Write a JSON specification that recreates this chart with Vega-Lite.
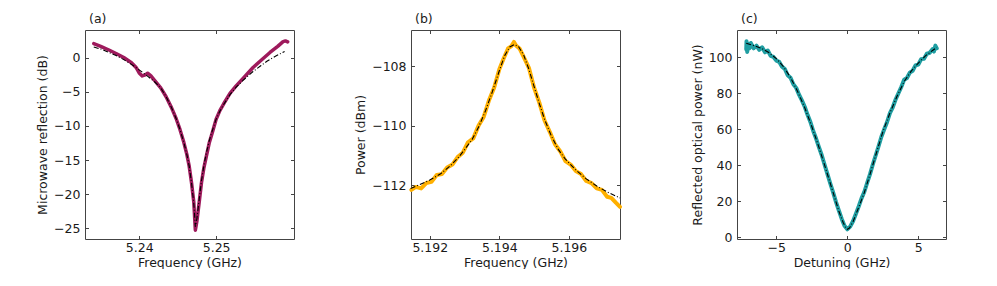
{
  "$schema": "https://vega.github.io/schema/vega-lite/v6.json",
  "padding": {"left": 36, "top": 12, "right": 0, "bottom": 0},
  "background": "white",
  "config": {
    "font": "DejaVu Sans",
    "view": {"stroke": "#444444", "strokeWidth": 1},
    "axis": {"grid": false, "domain": false, "tickSize": -3.5, "tickColor": "#444444", "tickWidth": 1,
      "labelFontSize": 12.5, "titleFontSize": 12.5, "titleFontWeight": "normal", "labelColor": "#1a1a1a", "titleColor": "#1a1a1a",
      "labelFont": "DejaVu Sans", "titleFont": "DejaVu Sans"},
    "axisX": {"labelPadding": 6, "titlePadding": 2},
    "axisY": {"labelPadding": 8.5, "titlePadding": 4},
    "title": {"font": "DejaVu Sans", "fontSize": 12.5, "fontWeight": "normal", "anchor": "start", "frame": "group", "dx": 4, "offset": 4, "color": "#1a1a1a"}
  },
  "datasets": {
    "a_data": [
      {"f": 5.2341, "v": 2.1}, {"f": 5.2350, "v": 1.7}, {"f": 5.2360, "v": 1.2}, {"f": 5.2370, "v": 0.65},
      {"f": 5.2380, "v": 0.05}, {"f": 5.2390, "v": -0.7}, {"f": 5.2396, "v": -1.4}, {"f": 5.2400, "v": -2.2},
      {"f": 5.2404, "v": -2.65}, {"f": 5.2408, "v": -2.5}, {"f": 5.2411, "v": -2.25}, {"f": 5.2415, "v": -2.6},
      {"f": 5.2420, "v": -3.3}, {"f": 5.2428, "v": -4.4}, {"f": 5.2435, "v": -5.7}, {"f": 5.2442, "v": -7.3},
      {"f": 5.2448, "v": -8.9}, {"f": 5.2453, "v": -10.5}, {"f": 5.2458, "v": -12.4}, {"f": 5.2462, "v": -14.2},
      {"f": 5.2465, "v": -15.9}, {"f": 5.2468, "v": -18.3}, {"f": 5.2471, "v": -21.2}, {"f": 5.2473, "v": -25.3},
      {"f": 5.2475, "v": -24.0}, {"f": 5.2478, "v": -21.2}, {"f": 5.2481, "v": -18.3}, {"f": 5.2484, "v": -16.2},
      {"f": 5.2487, "v": -14.6}, {"f": 5.2491, "v": -12.5}, {"f": 5.2495, "v": -11.0}, {"f": 5.2500, "v": -9.0},
      {"f": 5.2505, "v": -7.7}, {"f": 5.2510, "v": -6.7}, {"f": 5.2518, "v": -5.2}, {"f": 5.2526, "v": -4.1},
      {"f": 5.2535, "v": -3.0}, {"f": 5.2548, "v": -1.4}, {"f": 5.2560, "v": -0.2}, {"f": 5.2570, "v": 0.8},
      {"f": 5.2580, "v": 1.7}, {"f": 5.2587, "v": 2.4}, {"f": 5.2590, "v": 2.5}, {"f": 5.2593, "v": 2.35}
    ],
    "a_fit": [
      {"f": 5.2341, "v": 1.6}, {"f": 5.2350, "v": 1.3}, {"f": 5.2360, "v": 0.85}, {"f": 5.2370, "v": 0.35},
      {"f": 5.2380, "v": -0.25}, {"f": 5.2390, "v": -0.95}, {"f": 5.2400, "v": -1.75}, {"f": 5.2410, "v": -2.6},
      {"f": 5.2420, "v": -3.5}, {"f": 5.2428, "v": -4.4}, {"f": 5.2435, "v": -5.7}, {"f": 5.2442, "v": -7.3},
      {"f": 5.2448, "v": -8.9}, {"f": 5.2453, "v": -10.5}, {"f": 5.2458, "v": -12.4}, {"f": 5.2462, "v": -14.2},
      {"f": 5.2465, "v": -15.9}, {"f": 5.2468, "v": -18.3}, {"f": 5.2471, "v": -21.4}, {"f": 5.2473, "v": -24.8},
      {"f": 5.2475, "v": -23.6}, {"f": 5.2478, "v": -20.8}, {"f": 5.2481, "v": -18.0}, {"f": 5.2484, "v": -15.9},
      {"f": 5.2487, "v": -14.1}, {"f": 5.2491, "v": -12.2}, {"f": 5.2495, "v": -10.7}, {"f": 5.2500, "v": -9.0},
      {"f": 5.2505, "v": -7.8}, {"f": 5.2510, "v": -6.8}, {"f": 5.2518, "v": -5.4}, {"f": 5.2526, "v": -4.3},
      {"f": 5.2535, "v": -3.3}, {"f": 5.2548, "v": -2.0}, {"f": 5.2558, "v": -1.15}, {"f": 5.2566, "v": -0.5},
      {"f": 5.2577, "v": 0.25}, {"f": 5.2589, "v": 0.95}
    ],
    "b_data": [
      {"f": 5.19147, "v": -112.15}, {"f": 5.19160, "v": -112.05}, {"f": 5.19175, "v": -112.10}, {"f": 5.19190, "v": -111.92},
      {"f": 5.19205, "v": -111.88}, {"f": 5.19220, "v": -111.65}, {"f": 5.19235, "v": -111.62}, {"f": 5.19250, "v": -111.40},
      {"f": 5.19265, "v": -111.30}, {"f": 5.19280, "v": -111.05}, {"f": 5.19295, "v": -110.90}, {"f": 5.19310, "v": -110.55},
      {"f": 5.19325, "v": -110.42}, {"f": 5.19340, "v": -110.00}, {"f": 5.19355, "v": -109.70}, {"f": 5.19370, "v": -109.15},
      {"f": 5.19385, "v": -108.72}, {"f": 5.19400, "v": -108.10}, {"f": 5.19413, "v": -107.72}, {"f": 5.19425, "v": -107.40},
      {"f": 5.19435, "v": -107.32}, {"f": 5.19442, "v": -107.18}, {"f": 5.19448, "v": -107.30}, {"f": 5.19458, "v": -107.40},
      {"f": 5.19470, "v": -107.68}, {"f": 5.19485, "v": -108.05}, {"f": 5.19500, "v": -108.72}, {"f": 5.19515, "v": -109.22},
      {"f": 5.19530, "v": -109.82}, {"f": 5.19545, "v": -110.20}, {"f": 5.19560, "v": -110.62}, {"f": 5.19575, "v": -110.85},
      {"f": 5.19590, "v": -111.18}, {"f": 5.19605, "v": -111.30}, {"f": 5.19620, "v": -111.52}, {"f": 5.19635, "v": -111.62},
      {"f": 5.19650, "v": -111.85}, {"f": 5.19665, "v": -111.92}, {"f": 5.19680, "v": -112.10}, {"f": 5.19695, "v": -112.15},
      {"f": 5.19710, "v": -112.38}, {"f": 5.19722, "v": -112.42}, {"f": 5.19735, "v": -112.58}, {"f": 5.19747, "v": -112.72}
    ],
    "b_fit": [
      {"f": 5.19145, "v": -112.10}, {"f": 5.19170, "v": -111.98}, {"f": 5.19200, "v": -111.82}, {"f": 5.19230, "v": -111.62},
      {"f": 5.19260, "v": -111.33}, {"f": 5.19283, "v": -111.05}, {"f": 5.19300, "v": -110.80}, {"f": 5.19322, "v": -110.45},
      {"f": 5.19340, "v": -110.05}, {"f": 5.19360, "v": -109.50}, {"f": 5.19380, "v": -108.85}, {"f": 5.19400, "v": -108.15},
      {"f": 5.19415, "v": -107.65}, {"f": 5.19430, "v": -107.35}, {"f": 5.19443, "v": -107.27}, {"f": 5.19455, "v": -107.33},
      {"f": 5.19470, "v": -107.62}, {"f": 5.19485, "v": -108.10}, {"f": 5.19500, "v": -108.68}, {"f": 5.19515, "v": -109.25},
      {"f": 5.19530, "v": -109.78}, {"f": 5.19550, "v": -110.35}, {"f": 5.19570, "v": -110.80}, {"f": 5.19590, "v": -111.12},
      {"f": 5.19620, "v": -111.48}, {"f": 5.19650, "v": -111.78}, {"f": 5.19680, "v": -112.02}, {"f": 5.19710, "v": -112.22},
      {"f": 5.19747, "v": -112.42}
    ],
    "c_data": [
      {"d": -7.12, "v": 104.5}, {"d": -7.10, "v": 109.0}, {"d": -7.05, "v": 103.0}, {"d": -7.0, "v": 107.5},
      {"d": -6.9, "v": 105.0}, {"d": -6.8, "v": 108.0}, {"d": -6.6, "v": 105.0}, {"d": -6.4, "v": 106.5},
      {"d": -6.2, "v": 104.2}, {"d": -6.0, "v": 105.6}, {"d": -5.8, "v": 102.8}, {"d": -5.6, "v": 103.8},
      {"d": -5.4, "v": 100.8}, {"d": -5.2, "v": 100.2}, {"d": -5.0, "v": 98.2}, {"d": -4.8, "v": 97.5},
      {"d": -4.6, "v": 94.8}, {"d": -4.4, "v": 93.5}, {"d": -4.2, "v": 90.0}, {"d": -4.0, "v": 88.6},
      {"d": -3.8, "v": 85.0}, {"d": -3.6, "v": 83.0}, {"d": -3.4, "v": 79.2}, {"d": -3.2, "v": 76.0},
      {"d": -3.0, "v": 72.5}, {"d": -2.8, "v": 68.0}, {"d": -2.6, "v": 64.0}, {"d": -2.4, "v": 59.0},
      {"d": -2.2, "v": 54.8}, {"d": -2.0, "v": 50.0}, {"d": -1.8, "v": 45.5}, {"d": -1.6, "v": 40.2},
      {"d": -1.4, "v": 35.0}, {"d": -1.2, "v": 29.8}, {"d": -1.0, "v": 24.8}, {"d": -0.8, "v": 19.6},
      {"d": -0.6, "v": 14.8}, {"d": -0.4, "v": 10.2}, {"d": -0.2, "v": 6.3}, {"d": 0.0, "v": 4.3},
      {"d": 0.2, "v": 5.8}, {"d": 0.4, "v": 8.8}, {"d": 0.6, "v": 12.8}, {"d": 0.8, "v": 17.0},
      {"d": 1.0, "v": 21.5}, {"d": 1.2, "v": 25.2}, {"d": 1.4, "v": 30.2}, {"d": 1.6, "v": 35.0},
      {"d": 1.8, "v": 40.5}, {"d": 2.0, "v": 45.5}, {"d": 2.2, "v": 50.5}, {"d": 2.4, "v": 55.8},
      {"d": 2.6, "v": 60.0}, {"d": 2.8, "v": 64.0}, {"d": 3.0, "v": 69.0}, {"d": 3.2, "v": 72.2},
      {"d": 3.4, "v": 76.5}, {"d": 3.6, "v": 80.0}, {"d": 3.8, "v": 83.5}, {"d": 4.0, "v": 87.5},
      {"d": 4.2, "v": 88.5}, {"d": 4.4, "v": 91.5}, {"d": 4.6, "v": 92.5}, {"d": 4.8, "v": 95.5},
      {"d": 5.0, "v": 96.0}, {"d": 5.2, "v": 99.0}, {"d": 5.4, "v": 99.2}, {"d": 5.6, "v": 102.0},
      {"d": 5.8, "v": 102.5}, {"d": 6.0, "v": 104.5}, {"d": 6.1, "v": 103.2}, {"d": 6.2, "v": 106.5},
      {"d": 6.3, "v": 105.0}
    ],
    "c_fit": [
      {"d": -7.12, "v": 107.8}, {"d": -6.5, "v": 106.3}, {"d": -6.0, "v": 104.8}, {"d": -5.5, "v": 102.5},
      {"d": -5.0, "v": 99.3}, {"d": -4.5, "v": 94.8}, {"d": -4.0, "v": 88.8}, {"d": -3.5, "v": 81.0},
      {"d": -3.0, "v": 72.0}, {"d": -2.5, "v": 61.5}, {"d": -2.0, "v": 50.0}, {"d": -1.5, "v": 37.5},
      {"d": -1.0, "v": 24.8}, {"d": -0.6, "v": 14.5}, {"d": -0.3, "v": 8.2}, {"d": -0.1, "v": 5.0},
      {"d": 0.0, "v": 4.3}, {"d": 0.15, "v": 5.0}, {"d": 0.4, "v": 8.5}, {"d": 0.8, "v": 16.5},
      {"d": 1.2, "v": 24.8}, {"d": 1.6, "v": 35.0}, {"d": 2.0, "v": 45.5}, {"d": 2.5, "v": 58.5},
      {"d": 3.0, "v": 69.0}, {"d": 3.5, "v": 78.3}, {"d": 4.0, "v": 86.5}, {"d": 4.5, "v": 92.3},
      {"d": 5.0, "v": 96.8}, {"d": 5.5, "v": 100.8}, {"d": 6.0, "v": 103.8}, {"d": 6.3, "v": 105.5}
    ]
  },
  "bounds": "flush",
  "spacing": 117,
  "hconcat": [
    {
      "width": 209, "height": 209,
      "title": {"text": "(a)"},
      "layer": [
        {
          "data": {"name": "a_data"},
          "mark": {"type": "line", "color": "#9e1a5c", "strokeWidth": 3.5, "strokeCap": "round", "strokeJoin": "round"},
          "encoding": {
            "x": {"field": "f", "type": "quantitative", "scale": {"domain": [5.23296, 5.26012], "nice": false, "zero": false},
              "axis": {"orient": "bottom", "values": [5.24, 5.25], "format": ".2f", "title": "Frequency (GHz)"}},
            "y": {"field": "v", "type": "quantitative", "scale": {"domain": [-26.6, 4.1], "nice": false, "zero": false},
              "axis": {"orient": "left", "values": [0, -5, -10, -15, -20, -25], "title": "Microwave reflection (dB)"}}
          }
        },
        {
          "data": {"name": "a_fit"},
          "mark": {"type": "line", "color": "black", "strokeWidth": 1.1, "strokeDash": [5, 2, 1, 2]},
          "encoding": {
            "x": {"field": "f", "type": "quantitative", "axis": {"orient": "top", "values": [5.24, 5.25], "labels": false, "title": null}},
            "y": {"field": "v", "type": "quantitative", "axis": {"orient": "right", "values": [0, -5, -10, -15, -20, -25], "labels": false, "title": null}}
          }
        }
      ],
      "resolve": {"axis": {"x": "independent", "y": "independent"}}
    },
    {
      "width": 209, "height": 209,
      "title": {"text": "(b)"},
      "layer": [
        {
          "data": {"name": "b_data"},
          "mark": {"type": "line", "color": "#ffb000", "strokeWidth": 4, "strokeCap": "round", "strokeJoin": "round"},
          "encoding": {
            "x": {"field": "f", "type": "quantitative", "scale": {"domain": [5.19146, 5.19747], "nice": false, "zero": false},
              "axis": {"orient": "bottom", "values": [5.192, 5.194, 5.196], "format": ".3f", "title": "Frequency (GHz)"}},
            "y": {"field": "v", "type": "quantitative", "scale": {"domain": [-113.8, -106.78], "nice": false, "zero": false},
              "axis": {"orient": "left", "values": [-108, -110, -112], "title": "Power (dBm)"}}
          }
        },
        {
          "data": {"name": "b_fit"},
          "mark": {"type": "line", "color": "black", "strokeWidth": 1.1, "strokeDash": [5, 2, 1, 2]},
          "encoding": {
            "x": {"field": "f", "type": "quantitative", "axis": {"orient": "top", "values": [5.192, 5.194, 5.196], "labels": false, "title": null}},
            "y": {"field": "v", "type": "quantitative", "axis": {"orient": "right", "values": [-108, -110, -112], "labels": false, "title": null}}
          }
        }
      ],
      "resolve": {"axis": {"x": "independent", "y": "independent"}}
    },
    {
      "width": 209, "height": 209,
      "title": {"text": "(c)"},
      "layer": [
        {
          "data": {"name": "c_data"},
          "mark": {"type": "line", "color": "#1f9ea2", "strokeWidth": 4, "strokeCap": "round", "strokeJoin": "round"},
          "encoding": {
            "x": {"field": "d", "type": "quantitative", "scale": {"domain": [-7.77, 6.95], "nice": false, "zero": false},
              "axis": {"orient": "bottom", "values": [-5, 0, 5], "title": "Detuning (GHz)"}},
            "y": {"field": "v", "type": "quantitative", "scale": {"domain": [-1.1, 115.2], "nice": false, "zero": false},
              "axis": {"orient": "left", "values": [0, 20, 40, 60, 80, 100], "title": "Reflected optical power (nW)"}}
          }
        },
        {
          "data": {"name": "c_fit"},
          "mark": {"type": "line", "color": "black", "strokeWidth": 1.1, "strokeDash": [5, 2, 1, 2]},
          "encoding": {
            "x": {"field": "d", "type": "quantitative", "axis": {"orient": "top", "values": [-5, 0, 5], "labels": false, "title": null}},
            "y": {"field": "v", "type": "quantitative", "axis": {"orient": "right", "values": [0, 20, 40, 60, 80, 100], "labels": false, "title": null}}
          }
        }
      ],
      "resolve": {"axis": {"x": "independent", "y": "independent"}}
    }
  ]
}
